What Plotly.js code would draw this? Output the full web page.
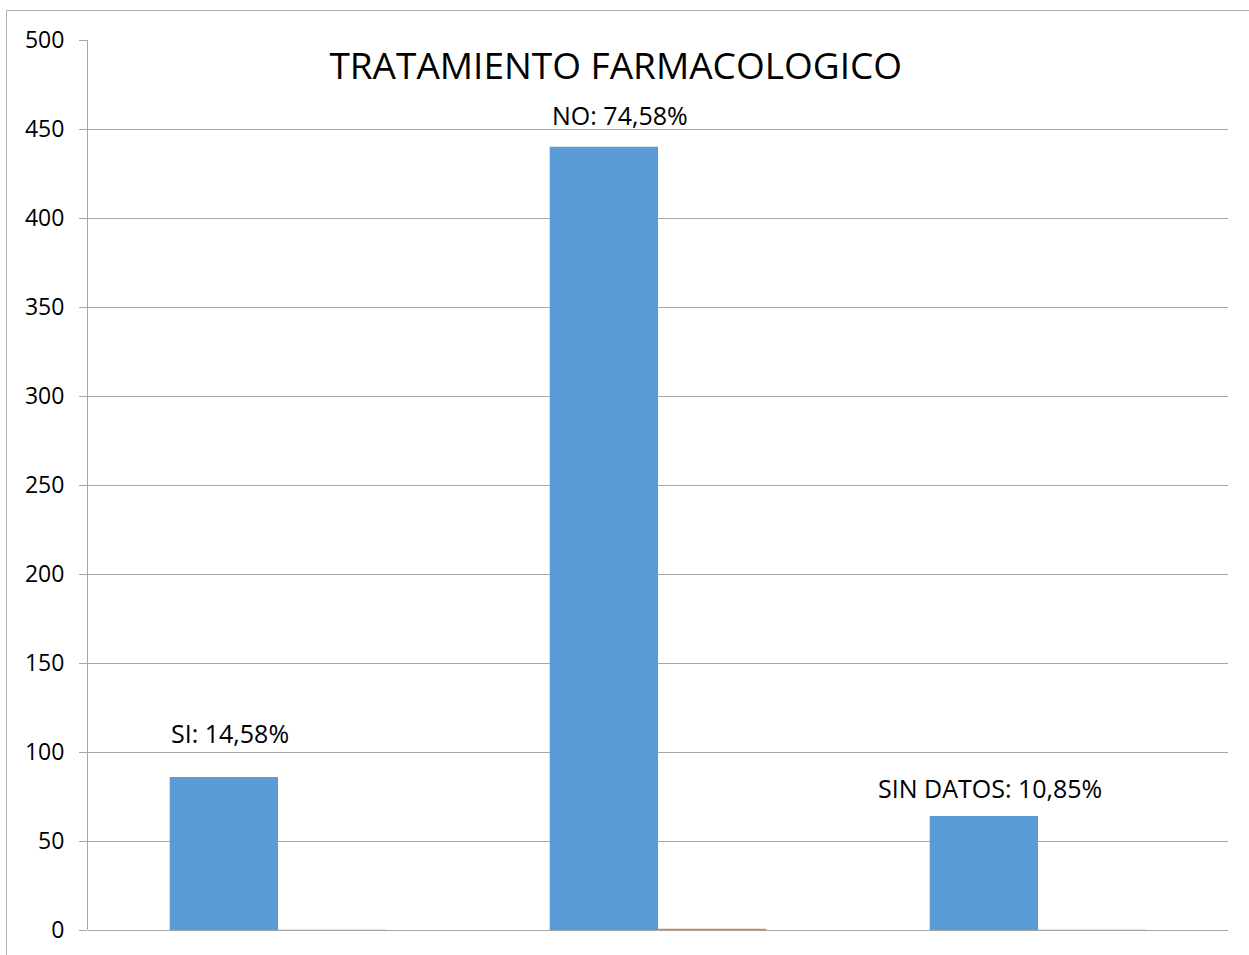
<!DOCTYPE html>
<html><head><meta charset="utf-8">
<script src="https://cdn.plot.ly/plotly-3.0.1.min.js"></script>
<style>
html,body{margin:0;padding:0;background:#fff;}
#wrap{position:relative;width:1249px;height:955px;}
#chart{width:1249px;height:955px;}
#frame{position:absolute;left:6px;top:10px;right:0;bottom:0;border-top:1px solid #b4b4b4;border-left:1px solid #b4b4b4;pointer-events:none;}
</style></head>
<body>
<div id="wrap"><div id="chart"></div><div id="frame"></div></div>
<script>
const categories = ["SI", "NO", "SIN DATOS"];
const counts = [86, 440, 64];
const percents = [0.1458, 0.7458, 0.1085];
const labels = ["SI: 14,58%", "NO: 74,58%", "SIN DATOS: 10,85%"];
const yTicks = [0, 50, 100, 150, 200, 250, 300, 350, 400, 450, 500];

const font = "Open Sans, Liberation Sans, sans-serif";
const labelXShift = [-48, -38, -48];
const labelYShift = [44, 32, 28];

const traces = [
  {type: "bar", x: categories, y: counts, marker: {color: "#5b9bd5"}, hoverinfo: "none"},
  {type: "bar", x: categories, y: percents, marker: {color: "#ed7d31"}, hoverinfo: "none"}
];

const annotations = categories.map((c, i) => ({
  x: c, y: counts[i], xref: "x", yref: "y", text: labels[i], showarrow: false,
  yanchor: "middle", xanchor: "center", yshift: labelYShift[i], xshift: labelXShift[i],
  font: {family: font, size: 25, color: "#000"}
}));

const layout = {
  width: 1249, height: 955,
  margin: {l: 88, r: 21, t: 40, b: 25},
  paper_bgcolor: "rgba(0,0,0,0)", plot_bgcolor: "#fff",
  showlegend: false,
  barmode: "group", bargap: 0.43, bargroupgap: 0,
  title: {text: "TRATAMIENTO FARMACOLOGICO", x: 0.493, xanchor: "center", y: 0.931, yanchor: "middle",
          font: {family: font, size: 37, color: "#000"}},
  xaxis: {showticklabels: false, showgrid: false, zeroline: false, showline: false, ticks: "", fixedrange: true},
  yaxis: {range: [0, 500], tickvals: yTicks, ticktext: yTicks.map(String),
          showgrid: true, gridcolor: "#a6a6a6", gridwidth: 1,
          showline: true, linecolor: "#a6a6a6", linewidth: 1,
          ticks: "outside", ticklen: 8, tickcolor: "#a6a6a6",
          zeroline: true, zerolinecolor: "#a6a6a6", zerolinewidth: 1,
          ticklabelstandoff: 10,
          tickfont: {family: font, size: 23, color: "#000"}},
  annotations: annotations
};

Plotly.newPlot("chart", traces, layout, {staticPlot: true, displayModeBar: false});
</script>
</body></html>
